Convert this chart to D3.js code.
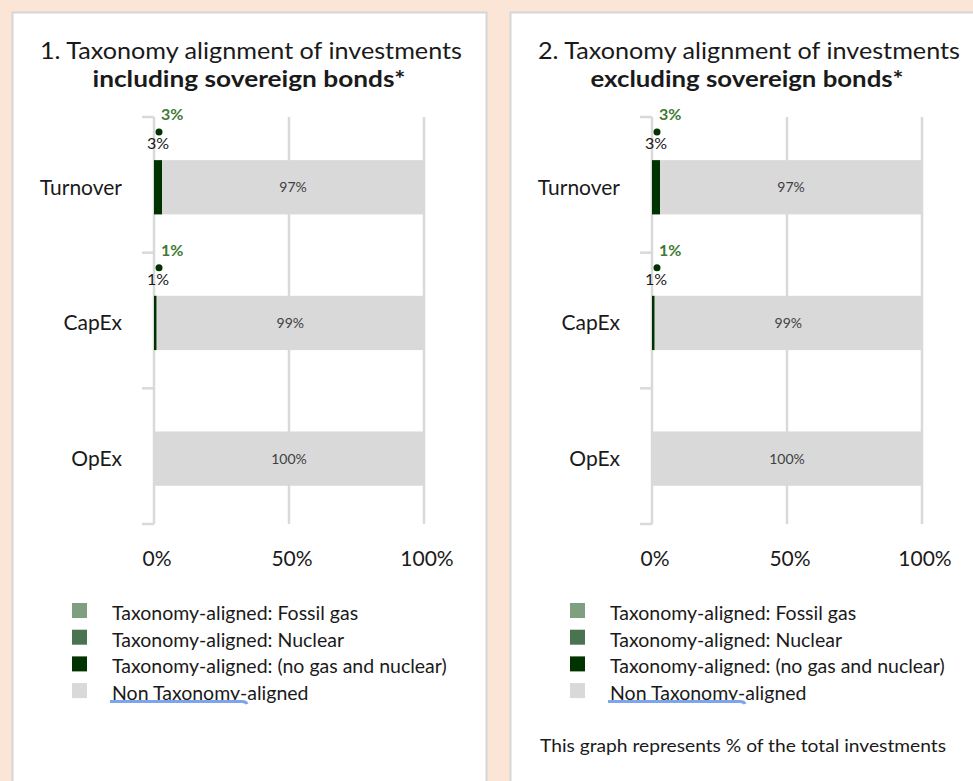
<!DOCTYPE html>
<html>
<head>
<meta charset="utf-8">
<script src="https://cdn.jsdelivr.net/npm/d3@7"></script>
<style>
  body { margin: 0; background: #fbe5d6; }
  svg { display: block; font-family: Lato, "Open Sans", sans-serif; }
</style>
</head>
<body>
<svg id="chart" width="973" height="781"></svg>
<script>
// categories and series
const categories = ["Turnover", "CapEx", "OpEx"];
const seriesNames = [
    "Taxonomy-aligned: Fossil gas",
    "Taxonomy-aligned: Nuclear",
    "Taxonomy-aligned: (no gas and nuclear)",
    "Non Taxonomy-aligned"
];
const seriesColors = ["#7f9f80", "#4a7352", "#003300", "#d9d9d9"];

// chart 1: including sovereign bonds
const fossilGas1 = [0, 0, 0];
const nuclear1 = [0, 0, 0];
const aligned1 = [3, 1, 0];
const nonAligned1 = [97, 99, 100];

// chart 2: excluding sovereign bonds
const fossilGas2 = [0, 0, 0];
const nuclear2 = [0, 0, 0];
const aligned2 = [3, 1, 0];
const nonAligned2 = [97, 99, 100];

const xTicks = [0, 50, 100];
const titleLines1 = ["1. Taxonomy alignment of investments", "including sovereign bonds*"];
const titleLines2 = ["2. Taxonomy alignment of investments", "excluding sovereign bonds*"];
const noteText = "This graph represents % of the total investments";

const svg = d3.select("#chart");

function drawPanel(left, panelWidth, titleLines, fossil, nuclear, aligned, nonAligned, note) {
    const g = svg.append("g").attr("transform", `translate(${left},0)`);

    // white card
    g.append("rect")
        .attr("x", 0.5).attr("y", 12.5)
        .attr("width", panelWidth).attr("height", 820)
        .attr("fill", "#fff")
        .attr("stroke", "#d6d6d6")
        .attr("stroke-width", 2);

    // title
    g.append("text")
        .attr("x", 239).attr("y", 59)
        .attr("text-anchor", "middle")
        .attr("textLength", 422).attr("lengthAdjust", "spacingAndGlyphs")
        .style("font-size", "23px").style("fill", "#1a1a1a")
        .text(titleLines[0]);
    g.append("text")
        .attr("x", 237).attr("y", 87)
        .attr("text-anchor", "middle")
        .attr("textLength", 313).attr("lengthAdjust", "spacingAndGlyphs")
        .style("font-size", "23px").style("font-weight", "bold").style("fill", "#1a1a1a")
        .text(titleLines[1]);

    const x = d3.scaleLinear().domain([0, 100]).range([142, 412]);
    const y = d3.scaleBand().domain(categories).range([117, 524])
        .paddingInner(0.6).paddingOuter(0.3).align(0.53);

    const rows = categories.map((c, i) => ({
        cat: c,
        vals: [fossil[i], nuclear[i], aligned[i], nonAligned[i]]
    }));

    // gridlines
    g.selectAll(".grid").data(xTicks).enter().append("line")
        .attr("x1", d => x(d)).attr("x2", d => x(d))
        .attr("y1", 117).attr("y2", 524)
        .attr("stroke", "#d9d9d9").attr("stroke-width", 2.5);

    // category ticks at band boundaries
    const bounds = d3.range(categories.length + 1).map(i => 117 + i * y.step());
    g.selectAll(".ytick").data(bounds).enter().append("line")
        .attr("x1", x(0) - 12).attr("x2", x(0))
        .attr("y1", d => d).attr("y2", d => d)
        .attr("stroke", "#d9d9d9").attr("stroke-width", 2.5);

    // stacked bars
    rows.forEach((r, i) => {
        let acc = 0;
        r.vals.forEach((v, k) => {
            if (v <= 0) return;
            g.append("rect")
                .attr("x", x(acc)).attr("y", y(r.cat))
                .attr("width", x(acc + v) - x(acc)).attr("height", y.bandwidth())
                .attr("fill", seriesColors[k]);
            if (k === 3) {
                g.append("text")
                    .attr("x", (x(acc) + x(acc + v)) / 2)
                    .attr("y", y(r.cat) + y.bandwidth() / 2)
                    .attr("dy", "0.35em")
                    .attr("text-anchor", "middle")
                    .style("font-size", "14px").style("fill", "#404040")
                    .text(v + "%");
            }
            acc += v;
        });

        // aligned labels above bar
        const tot = r.vals[0] + r.vals[1] + r.vals[2];
        if (tot > 0) {
            const top = bounds[i];
            g.append("text")
                .attr("x", x(0) + 7).attr("y", top + 3)
                .style("font-size", "16px").style("font-weight", "bold").style("fill", "#3f7a35")
                .text(tot + "%");
            g.append("circle")
                .attr("cx", x(0) + 5).attr("cy", top + 15).attr("r", 3.5)
                .attr("fill", "#003300");
            g.append("text")
                .attr("x", x(0) + 4).attr("y", top + 32)
                .attr("text-anchor", "middle")
                .style("font-size", "16px").style("fill", "#1a1a1a")
                .text(r.vals[2] + "%");
        }
    });

    // category labels
    g.selectAll(".ylab").data(categories).enter().append("text")
        .attr("x", x(0) - 32)
        .attr("y", d => y(d) + y.bandwidth() / 2)
        .attr("dy", "0.35em")
        .attr("text-anchor", "end")
        .style("font-size", "21px").style("fill", "#1a1a1a")
        .text(d => d);

    // x tick labels
    g.selectAll(".xlab").data(xTicks).enter().append("text")
        .attr("x", d => x(d) + 3).attr("y", 566)
        .attr("text-anchor", "middle")
        .style("font-size", "21px").style("fill", "#1a1a1a")
        .text(d => d + "%");

    // legend
    const leg = g.selectAll(".leg").data(seriesNames).enter().append("g")
        .attr("transform", (d, i) => `translate(60,${603 + i * 26.7})`);
    leg.append("rect")
        .attr("width", 15).attr("height", 15)
        .attr("fill", (d, i) => seriesColors[i]);
    leg.append("text")
        .attr("x", 40).attr("y", 17)
        .style("font-size", "19.5px").style("fill", "#1a1a1a")
        .text(d => d);

    // spell-check style underline under "Non Taxonomy"
    g.append("path")
        .attr("d", "M98,701.5 L230,701.5 Q234,701.5 235,704")
        .attr("fill", "none").attr("stroke", "#7ea4ee").attr("stroke-width", 3);

    if (note) {
        g.append("text")
            .attr("x", 233).attr("y", 752)
            .attr("text-anchor", "middle")
            .attr("textLength", 406).attr("lengthAdjust", "spacingAndGlyphs")
            .style("font-size", "17px").style("fill", "#1a1a1a")
            .text(note);
    }
}

drawPanel(12, 474, titleLines1, fossilGas1, nuclear1, aligned1, nonAligned1, null);
drawPanel(510, 480, titleLines2, fossilGas2, nuclear2, aligned2, nonAligned2, noteText);
</script>
</body>
</html>
